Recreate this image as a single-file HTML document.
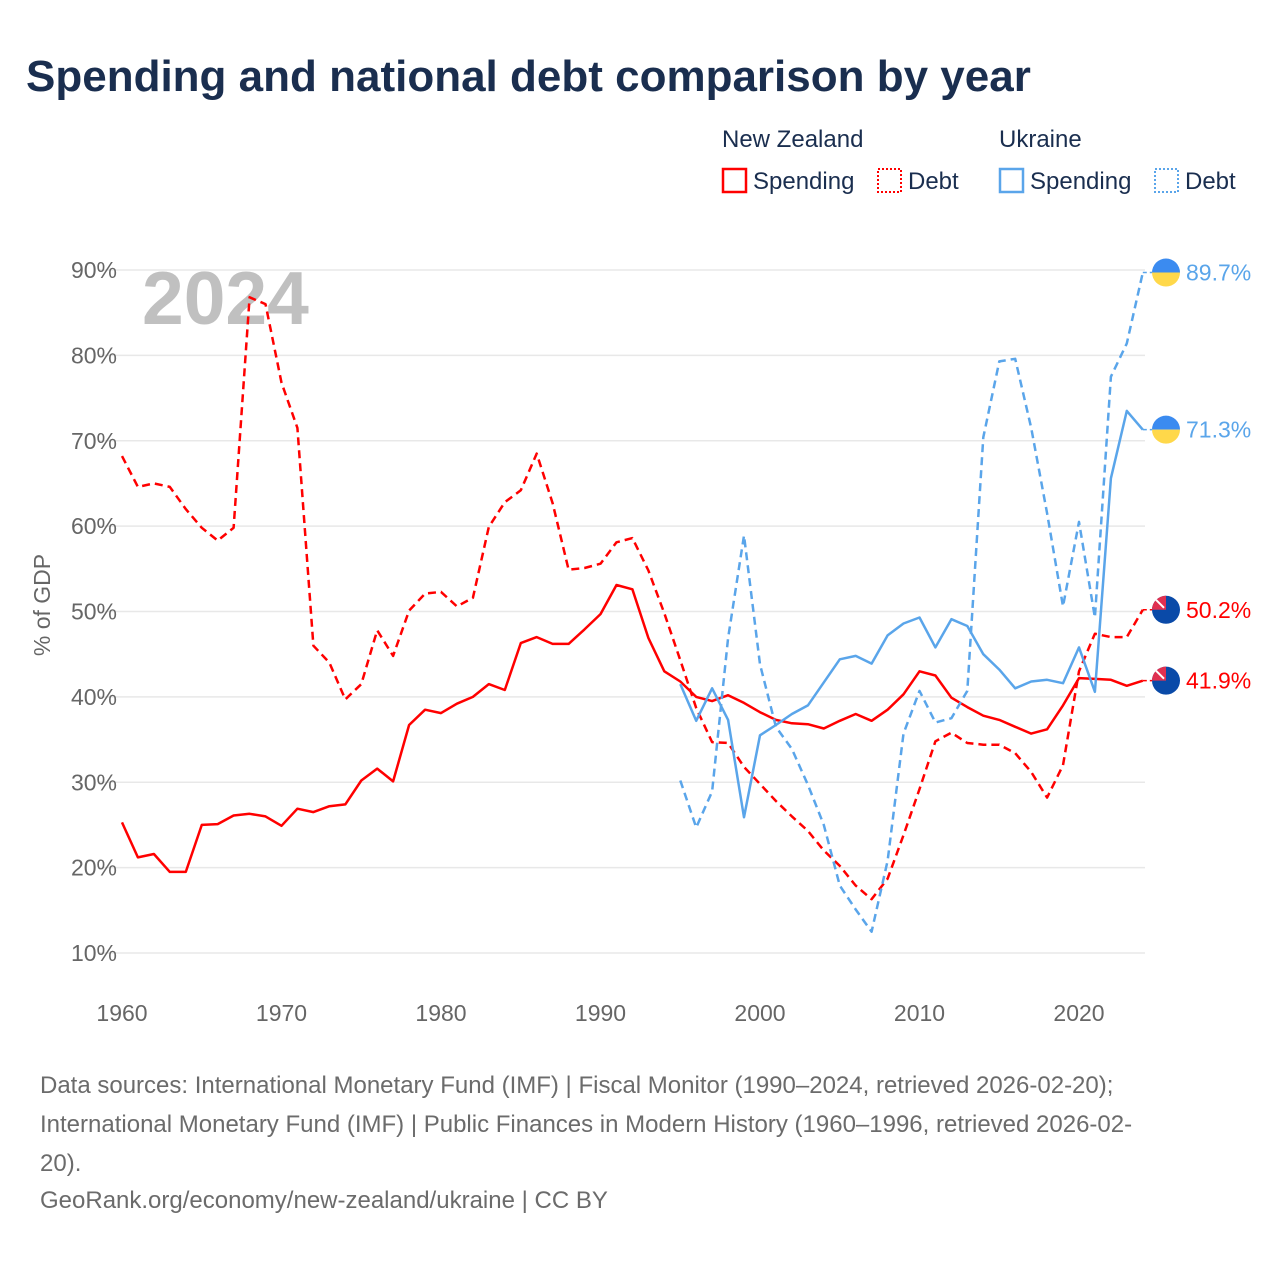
<!DOCTYPE html>
<html><head><meta charset="utf-8">
<style>
body{margin:0;background:#fff;font-family:"Liberation Sans",sans-serif;}
#wrap{position:relative;width:1280px;height:1280px;overflow:hidden;}
h1{position:absolute;left:26px;top:52px;margin:0;font-size:44px;font-weight:bold;color:#1a2e4f;letter-spacing:0px;}
.src{position:absolute;left:40px;font-size:24px;color:#6b6b6b;white-space:nowrap;}
</style></head>
<body>
<div id="wrap">
<h1>Spending and national debt comparison by year</h1>
<svg id="chart" width="1280" height="1280" style="position:absolute;left:0;top:0"></svg>
<div class="src" style="top:1066px;line-height:39px">Data sources: International Monetary Fund (IMF) | Fiscal Monitor (1990–2024, retrieved 2026-02-20);<br>International Monetary Fund (IMF) | Public Finances in Modern History (1960–1996, retrieved 2026-02-<br>20).</div>
<div class="src" style="top:1187px">GeoRank.org/economy/new-zealand/ukraine | CC BY</div>
</div>
<script>
const nzYears=[];for(let y=1960;y<=2024;y++)nzYears.push(y);
const uaYears=[];for(let y=1995;y<=2024;y++)uaYears.push(y);
const nzSpending=[25.3,21.2,21.6,19.5,19.5,25,25.1,26.1,26.3,26,24.9,26.9,26.5,27.2,27.4,30.2,31.6,30.1,36.7,38.5,38.1,39.2,40,41.5,40.8,46.3,47,46.2,46.2,47.9,49.7,53.1,52.6,46.9,43,41.8,40,39.5,40.2,39.3,38.2,37.3,36.9,36.8,36.3,37.2,38,37.2,38.5,40.3,43,42.5,39.9,38.8,37.8,37.3,36.5,35.7,36.2,39,42.2,42.1,42,41.3,41.9];
const nzDebt=[68.2,64.6,65,64.6,62,59.8,58.3,59.8,86.8,86,76.8,71.5,46,44,39.7,41.5,47.8,44.8,50.1,52.1,52.3,50.6,51.6,59.9,62.8,64.2,68.5,62.7,54.9,55.1,55.6,58.1,58.6,54.8,49.8,44.3,38.7,34.7,34.6,31.8,29.8,27.8,26,24.3,22,20.2,17.9,16.3,18.7,23.8,29.2,34.8,35.8,34.6,34.4,34.4,33.4,31.2,28.2,32,43,47.4,47,47,50.2];
const uaSpending=[41.5,37.2,41,37.3,25.9,35.5,36.7,38,39,41.7,44.4,44.8,43.9,47.2,48.6,49.3,45.8,49.1,48.3,45,43.2,41,41.8,42,41.6,45.8,40.6,65.6,73.5,71.3];
const uaDebt=[30.2,24.7,28.9,46.9,58.9,43.8,36.5,33.9,29.7,25,17.9,15.1,12.5,20.8,35.7,40.7,37,37.5,40.7,70.4,79.3,79.6,71.5,61.5,50.6,60.5,49.3,77.5,81.4,89.7];
const yTicks=[10,20,30,40,50,60,70,80,90];
const xTicks=[1960,1970,1980,1990,2000,2010,2020];
const NS='http://www.w3.org/2000/svg';
const svg=document.getElementById('chart');
const X=y=>122+(y-1960)*15.95;
const Y=v=>953-(v-10)*8.5375;
function el(t,a,p){const e=document.createElementNS(NS,t);for(const k in a)e.setAttribute(k,a[k]);(p||svg).appendChild(e);return e;}
function txt(s,a){const e=el('text',a);e.textContent=s;return e;}
yTicks.forEach(v=>{
  const g=el('line',{x1:98,x2:1145,y1:Y(v),y2:Y(v),stroke:'#e8e8e8','stroke-width':1.5});
  
  
  const t=txt(v+'%',{x:117,y:Y(v)+8,'text-anchor':'end','font-size':23,fill:'#666'});
  
  
});
xTicks.forEach(v=>{
  const t=txt(String(v),{x:X(v),y:1021,'text-anchor':'middle','font-size':23,fill:'#666'});
  
  
});
const yt=txt('% of GDP',{x:0,y:0,transform:'translate(50,605) rotate(-90)','text-anchor':'middle','font-size':23,fill:'#666'});


const yr=txt('2024',{x:142,y:324,'font-size':75,'font-weight':'bold',fill:'#c0c0c0'});


function line(years,vals,color,dash,name){
  const d=vals.map((v,i)=>(i?'L':'M')+X(years[i]).toFixed(1)+' '+Y(v).toFixed(1)).join(' ');
  const p=el('path',{d:d,fill:'none',stroke:color,'stroke-width':2.5,'stroke-dasharray':dash?'8 5':'none','stroke-linejoin':'round'});
  
  
  const last=vals[vals.length-1];
  el('path',{d:'M'+X(2024)+' '+Y(last)+' H1152',stroke:color,'stroke-width':1.5,'stroke-dasharray':'4 3'});
}
line(nzYears,nzDebt,'#ff0000',true,'nz-debt-line');
line(nzYears,nzSpending,'#ff0000',false,'nz-spending-line');
line(uaYears,uaDebt,'#5aa5ea',true,'ua-debt-line');
line(uaYears,uaSpending,'#5aa5ea',false,'ua-spending-line');
function flagUA(v,lbl){
  const cy=Y(v),cx=1166;
  const g=el('g',{});
  
  
  el('path',{d:`M${cx-14} ${cy} A14 14 0 0 1 ${cx+14} ${cy} Z`,fill:'#3b8bf0'},g);
  el('path',{d:`M${cx-14} ${cy} A14 14 0 0 0 ${cx+14} ${cy} Z`,fill:'#ffd84a'},g);
  const t=txt(v.toFixed(1)+'%',{x:1186,y:cy+8,'font-size':23,fill:'#5aa5ea'});
  
  
}
function flagNZ(v,lbl){
  const cy=Y(v),cx=1166;
  const g=el('g',{});
  
  
  el('circle',{cx:cx,cy:cy,r:14,fill:'#0a4aa8'},g);
  el('path',{d:`M${cx} ${cy} V${cy-14} A14 14 0 0 0 ${cx-14} ${cy} Z`,fill:'#e03050'},g);
  el('path',{d:`M${cx-10} ${cy-10} L${cx-2} ${cy-2}`,stroke:'#fff','stroke-width':2},g);
  const t=txt(v.toFixed(1)+'%',{x:1186,y:cy+8,'font-size':23,fill:'#ff0000'});
  
  
}
flagUA(uaDebt[uaDebt.length-1],'debt');
flagUA(uaSpending[uaSpending.length-1],'spending');
flagNZ(nzDebt[nzDebt.length-1],'debt');
flagNZ(nzSpending[nzSpending.length-1],'spending');
const leg=[['New Zealand',722],['Ukraine',999]];
leg.forEach(l=>{const t=txt(l[0],{x:l[1],y:147,'font-size':24,fill:'#1a2e4f'});
  
  });
const items=[[722,'#ff0000',false,'Spending','nz-spending'],[877,'#ff0000',true,'Debt','nz-debt'],[999,'#5aa5ea',false,'Spending','ua-spending'],[1154,'#5aa5ea',true,'Debt','ua-debt']];
items.forEach(it=>{
  const g=el('g',{});
  
  
  el('rect',{x:it[0]+1,y:169,width:23,height:23,fill:'none',stroke:it[1],'stroke-width':it[2]?2:2.5,'stroke-dasharray':it[2]?'2 2':'none'},g);
  const t=el('text',{x:it[0]+31,y:189,'font-size':24,fill:'#1a2e4f'},g);t.textContent=it[3];
});
</script>
</body></html>
